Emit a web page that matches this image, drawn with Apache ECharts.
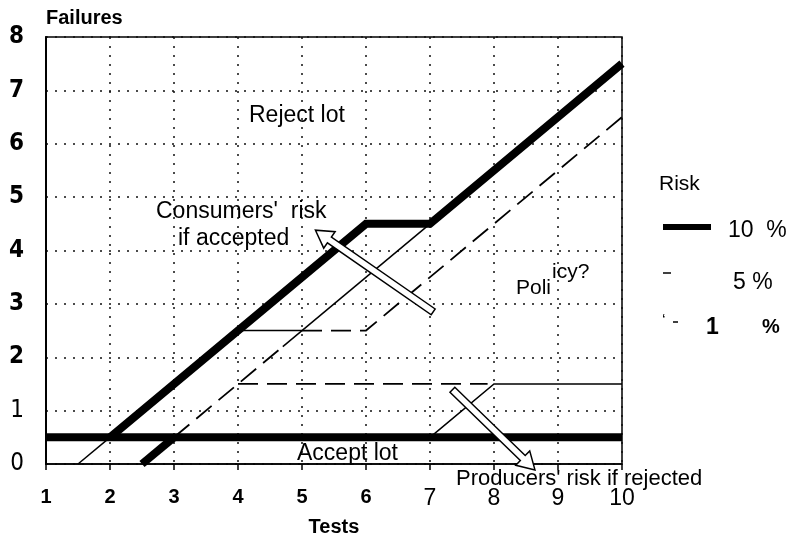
<!DOCTYPE html>
<html>
<head>
<meta charset="utf-8">
<script src="https://cdn.jsdelivr.net/npm/echarts@6/dist/echarts.min.js"></script>
<style>
  html, body { margin: 0; padding: 0; background: #fff; }
  #chart { width: 793px; height: 536px; }
</style>
</head>
<body>
<div id="chart"></div>
<script>
// Axis ranges and tick labels
const testTicks = [1, 2, 3, 4, 5, 6, 7, 8, 9, 10];
const failureTicks = [0, 1, 2, 3, 4, 5, 6, 7, 8];

// 10 % risk: accept line, its lower toe, and the reject line
const risk10Accept = [[1, 0.5], [10, 0.5]];
const risk10Toe = [[2.5, 0], [3, 0.5]];
const risk10Reject = [[2, 0.5], [6, 4.5], [7, 4.5], [10, 7.5]];

// 5 % risk (thin solid)
const risk5Toe = [[1.5, 0], [2, 0.5]];
const risk5Shelf = [[4, 2.5], [5, 2.5]];
const risk5Reject = [[4.7, 2.2], [7, 4.5]];
const risk5Accept = [[7, 0.5], [8, 1.5], [10, 1.5]];

// 1 % risk (dashed)
const risk1Rise = [[3, 0.5], [4.7, 2.2]];
const risk1Reject = [[5, 2.5], [6, 2.5], [10, 6.5]];
const risk1Accept = [[4, 1.5], [7.9, 1.5]];

// Annotation arrows: [tailX, tailY, headX, headY]
const arrows = [
  [7.05, 2.85, 5.21, 4.38],
  [7.35, 1.39, 8.64, -0.11]
];

const FONT = "'Liberation Sans', Arial, Helvetica, sans-serif";
const NARROW = "'Liberation Sans Narrow', 'Arial Narrow', 'DejaVu Sans Condensed', sans-serif";

function lineSeries(name, data, width, dashed) {
  return {
    name: name,
    type: 'line',
    data: data,
    symbol: 'none',
    silent: true,
    animation: false,
    z: width > 3 ? 4 : 3,
    lineStyle: {
      color: '#000',
      width: width,
      type: dashed ? [20, 9] : 'solid',
      cap: 'butt',
      join: 'miter'
    }
  };
}

function renderArrow(params, api) {
  const tail = api.coord([api.value(0), api.value(1)]);
  const tip = api.coord([api.value(2), api.value(3)]);
  const dx = tip[0] - tail[0], dy = tip[1] - tail[1];
  const len = Math.sqrt(dx * dx + dy * dy);
  const ux = dx / len, uy = dy / len;
  const nx = -uy, ny = ux;
  const w = 3.5, hw = 10, hl = 17;
  const bx = tip[0] - ux * hl, by = tip[1] - uy * hl;
  const pts = [
    [tail[0] + nx * w, tail[1] + ny * w],
    [bx + nx * w, by + ny * w],
    [bx + nx * hw, by + ny * hw],
    [tip[0], tip[1]],
    [bx - nx * hw, by - ny * hw],
    [bx - nx * w, by - ny * w],
    [tail[0] - nx * w, tail[1] - ny * w]
  ];
  return {
    type: 'polygon',
    shape: { points: pts },
    style: { fill: '#fff', stroke: '#000', lineWidth: 1.5 }
  };
}

const chart = echarts.init(document.getElementById('chart'), null, { renderer: 'canvas' });

const option = {
  backgroundColor: '#fff',
  animation: false,
  grid: {
    left: 46, right: 171, top: 37, bottom: 72,
    outerBoundsMode: 'none',
    containLabel: false,
    show: true, borderColor: '#000', borderWidth: 1.5, backgroundColor: 'transparent'
  },
  xAxis: {
    type: 'value',
    min: testTicks[0], max: testTicks[testTicks.length - 1], interval: 1,
    name: 'Tests',
    nameLocation: 'middle',
    nameGap: 53,
    nameTextStyle: { fontFamily: FONT, fontWeight: 'bold', fontSize: 20, color: '#000' },
    axisLine: { show: true, lineStyle: { color: '#000', width: 1.5 } },
    axisTick: { show: true, length: 6, lineStyle: { color: '#000', width: 1.5 } },
    axisLabel: {
      margin: 23,
      formatter: function (v) { return v <= 6 ? '{b|' + v + '}' : '{n|' + v + '}'; },
      rich: {
        b: { fontFamily: FONT, fontWeight: 'bold', fontSize: 20, color: '#000' },
        n: { fontFamily: FONT, fontWeight: 'normal', fontSize: 23, color: '#000' }
      }
    },
    splitLine: { show: true, lineStyle: { color: '#111', width: 1.5, type: [2, 7] } }
  },
  yAxis: {
    type: 'value',
    min: failureTicks[0], max: failureTicks[failureTicks.length - 1], interval: 1,
    name: 'Failures',
    nameLocation: 'end',
    nameGap: 9,
    nameTextStyle: { fontFamily: FONT, fontWeight: 'bold', fontSize: 20, color: '#000', align: 'left' },
    axisLine: { show: true, lineStyle: { color: '#000', width: 2 } },
    axisTick: { show: false },
    axisLabel: {
      margin: 22,
      formatter: function (v) { return v >= 2 ? '{b|' + v + '}' : '{n|' + v + '}'; },
      rich: {
        b: { fontFamily: NARROW, fontWeight: 'bold', fontSize: 24, color: '#000' },
        n: { fontFamily: NARROW, fontWeight: 'normal', fontSize: 24, color: '#000' }
      }
    },
    splitLine: { show: true, lineStyle: { color: '#111', width: 1.5, type: [2, 7] } }
  },
  series: [
    lineSeries('5 %', risk5Toe, 1.5, false),
    lineSeries('5 %', risk5Shelf, 1.5, false),
    lineSeries('5 %', risk5Reject, 1.5, false),
    lineSeries('5 %', risk5Accept, 1.5, false),
    lineSeries('1 %', risk1Rise, 1.8, true),
    lineSeries('1 %', risk1Reject, 1.8, true),
    lineSeries('1 %', risk1Accept, 1.8, true),
    lineSeries('10 %', risk10Accept, 8, false),
    lineSeries('10 %', risk10Toe, 8, false),
    lineSeries('10 %', risk10Reject, 8, false),
    {
      type: 'custom',
      data: arrows,
      encode: { x: [0, 2], y: [1, 3] },
      renderItem: renderArrow,
      clip: false,
      silent: true,
      z: 6
    }
  ],
  graphic: [
    { type: 'text', left: 249, top: 104, z: 10, style: { text: 'Reject lot', font: '23px ' + FONT, fill: '#000' } },
    { type: 'text', left: 156, top: 200, z: 10, style: { text: "Consumers'  risk", font: '23px ' + FONT, fill: '#000' } },
    { type: 'text', left: 178, top: 227, z: 10, style: { text: 'if accepted', font: '23px ' + FONT, fill: '#000' } },
    { type: 'text', left: 516, top: 278, z: 10, style: { text: 'Poli', font: '21px ' + FONT, fill: '#000' } },
    { type: 'text', left: 552, top: 262, z: 10, style: { text: 'icy?', font: '21px ' + FONT, fill: '#000' } },
    { type: 'text', left: 297, top: 442, z: 10, style: { text: 'Accept lot', font: '23px ' + FONT, fill: '#000' } },
    { type: 'text', left: 456, top: 468, z: 10, style: { text: "Producers' risk if rejected", font: '22px ' + FONT, fill: '#000' } },
    // Risk key
    { type: 'text', left: 659, top: 174, z: 10, style: { text: 'Risk', font: '21px ' + FONT, fill: '#000' } },
    { type: 'rect', shape: { x: 663, y: 224, width: 48, height: 6 }, style: { fill: '#000' }, z: 10 },
    { type: 'text', left: 728, top: 219, z: 10, style: { text: '10  %', font: '23px ' + FONT, fill: '#000' } },
    { type: 'line', shape: { x1: 663, y1: 273, x2: 671, y2: 273 }, style: { stroke: '#000', lineWidth: 1.5 }, z: 10 },
    { type: 'text', left: 733, top: 271, z: 10, style: { text: '5 %', font: '23px ' + FONT, fill: '#000' } },
    { type: 'text', left: 662, top: 314, z: 10, style: { text: '\u2018', font: '16px ' + FONT, fill: '#000' } },
    { type: 'line', shape: { x1: 673, y1: 322, x2: 678, y2: 322 }, style: { stroke: '#000', lineWidth: 1.5 }, z: 10 },
    { type: 'text', left: 706, top: 316, z: 10, style: { text: '1', font: 'bold 23px ' + FONT, fill: '#000' } },
    { type: 'text', left: 762, top: 317, z: 10, style: { text: '%', font: 'bold 20px ' + FONT, fill: '#000' } }
  ]
};

chart.setOption(option);
</script>
</body>
</html>
